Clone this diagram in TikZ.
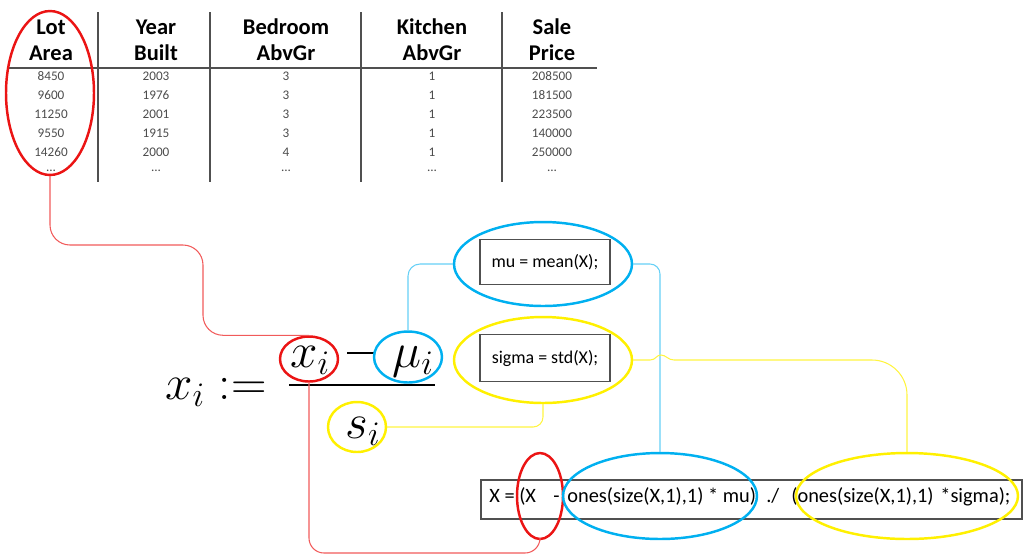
\RequirePackage{fix-cm}
\documentclass[tikz,border=0pt]{standalone}
\usepackage[no-math]{fontspec}
\setmainfont{Carlito}
\usetikzlibrary{shapes.geometric}

\definecolor{hlred}{RGB}{235,20,20}
\definecolor{hlblue}{RGB}{0,176,240}
\definecolor{hlyellow}{RGB}{255,240,0}
\definecolor{rulegray}{RGB}{80,80,80}
\newcommand\celldots{...}

\tikzset{
  ring/.style={draw=#1, ellipse, line width=1.4pt, inner sep=0pt},
  link/.style={draw=#1, line width=0.6pt},
  header/.style={font=\fontsize{12.8}{14.7}\selectfont\bfseries, align=center, inner sep=0pt},
  cell/.style={font=\fontsize{7.5}{9}\selectfont, text=black!70, inner sep=0pt},
  bigmath/.style={font=\fontsize{28}{34}\selectfont, anchor=base west, inner sep=0pt},
  codebox/.style={draw=rulegray, line width=1pt, rectangle, inner sep=0pt},
  codetext/.style={font=\fontsize{11.6}{13}\selectfont, anchor=base west, inner sep=0pt}
}

\begin{document}
\begin{tikzpicture}[x=0.02cm, y=-0.02cm]
        \useasboundingbox (0,0) rectangle (1024,556);

        % table
        \node[header] (hLot) at (51,40) {Lot\\Area};
        \node[header] (hYear) at (156,40) {Year\\Built};
        \node[header] (hBed) at (286,40) {Bedroom\\AbvGr};
        \node[header] (hKit) at (432,40) {Kitchen\\AbvGr};
        \node[header] (hPrice) at (552,40) {Sale\\Price};

        \draw[rulegray, line width=0.9pt] (7,68) -- (597,68);
        \draw[rulegray, line width=0.9pt] (98,12) -- (98,182);
        \draw[rulegray, line width=0.9pt] (210,12) -- (210,182);
        \draw[rulegray, line width=0.9pt] (361,12) -- (361,182);
        \draw[rulegray, line width=0.9pt] (502,12) -- (502,182);

        \foreach \a/\b/\c/\d/\e [count=\r] in {8450/2003/3/1/208500, 9600/1976/3/1/181500,
            11250/2001/3/1/223500, 9550/1915/3/1/140000, 14260/2000/4/1/250000,
            \celldots/\celldots/\celldots/\celldots/\celldots} {
            \node[cell] (lot\r) at (51,57+19*\r) {\a};
            \node[cell] (year\r) at (156,57+19*\r) {\b};
            \node[cell] (bed\r) at (286,57+19*\r) {\c};
            \node[cell] (kit\r) at (432,57+19*\r) {\d};
            \node[cell] (price\r) at (552,57+19*\r) {\e};
        }

        % formula
        \node[bigmath] (lhs) at (165,399) {$x_i :=$};
        \node[bigmath] (xnum) at (290,367) {$x_i$};
        \node[bigmath] (munum) at (392,367) {$\mu_i$};
        \node[bigmath] (sden) at (345,438) {$s_i$};
        \draw[line width=1.1pt] (347,353) -- (375,353);
        \draw[line width=1.1pt] (289,385) -- (435,385);

        % matlab boxes
        \node[codebox, minimum width=2.6cm, minimum height=0.9cm, font=\fontsize{10.2}{12}\selectfont]
            (meanbox) at (545,262) {mu = mean(X);};
        \node[codebox, minimum width=2.6cm, minimum height=0.94cm, font=\fontsize{10.2}{12}\selectfont]
            (stdbox) at (545,358) {sigma = std(X);};
        \node[codebox, anchor=north west, minimum width=10.82cm, minimum height=0.78cm] (code) at (480,479) {};
        \node[codetext] (cX) at (489,502) {X = (X};
        \node[codetext] (cMinus) at (553,502) {-};
        \node[codetext] (cMu) at (567,502) {ones(size(X,1),1) * mu)};
        \node[codetext] (cDiv) at (766,502) {./};
        \node[codetext] (cOnes) at (791,502) {(ones(size(X,1),1)};
        \node[codetext] (cSig) at (940,502) {*sigma);};

        % rings
        \node[ring=hlred, minimum width=1.76cm, minimum height=3.28cm] (lotRing) at (50,93) {};
        \node[ring=hlred, minimum width=1.16cm, minimum height=0.9cm] (xiRing) at (309,359) {};
        \node[ring=hlblue, minimum width=1.36cm, minimum height=1.02cm] (muRing) at (408,357) {};
        \node[ring=hlblue, minimum width=3.56cm, minimum height=1.68cm] (meanRing) at (543,264) {};
        \node[ring=hlyellow, minimum width=3.56cm, minimum height=1.72cm] (stdRing) at (543,360) {};
        \node[ring=hlyellow, minimum width=1.16cm, minimum height=1.0cm] (sRing) at (357,427) {};
        \node[ring=hlred, minimum width=0.92cm, minimum height=1.72cm] (xRing) at (540,496) {};
        \node[ring=hlblue, minimum width=3.88cm, minimum height=1.72cm] (onesMuRing) at (660,496) {};
        \node[ring=hlyellow, minimum width=4.44cm, minimum height=1.72cm] (onesSigRing) at (907,496) {};

        % connectors
        \coordinate (redknee) at (203,245);
        \coordinate (redfoot) at (540,553);
        \coordinate (hopend) at (674,360);
        \draw[link=hlred!70, rounded corners=0.4cm]
            (lotRing.south) |- (redknee) |- (xiRing.north);
        \draw[link=hlred!70, rounded corners=0.3cm]
            (xiRing.south) |- (redfoot) -- (xRing.south);
        \draw[link=hlblue!60, rounded corners=0.24cm] (muRing.north) |- (meanRing.west);
        \draw[link=hlblue!60, rounded corners=0.2cm] (meanRing.east) -| (onesMuRing.north);
        \draw[link=hlyellow!75, rounded corners=0.2cm] (sRing.east) -| (stdRing.south);
        \draw[link=hlyellow!75]
            (stdRing.east) -- (650,360) .. controls (656,360) and (656,355) .. (661,355)
            .. controls (666,355) and (668,360) .. (hopend);
        \draw[link=hlyellow!75, rounded corners=0.7cm] (hopend) -| (onesSigRing.north);
\end{tikzpicture}
\end{document}
